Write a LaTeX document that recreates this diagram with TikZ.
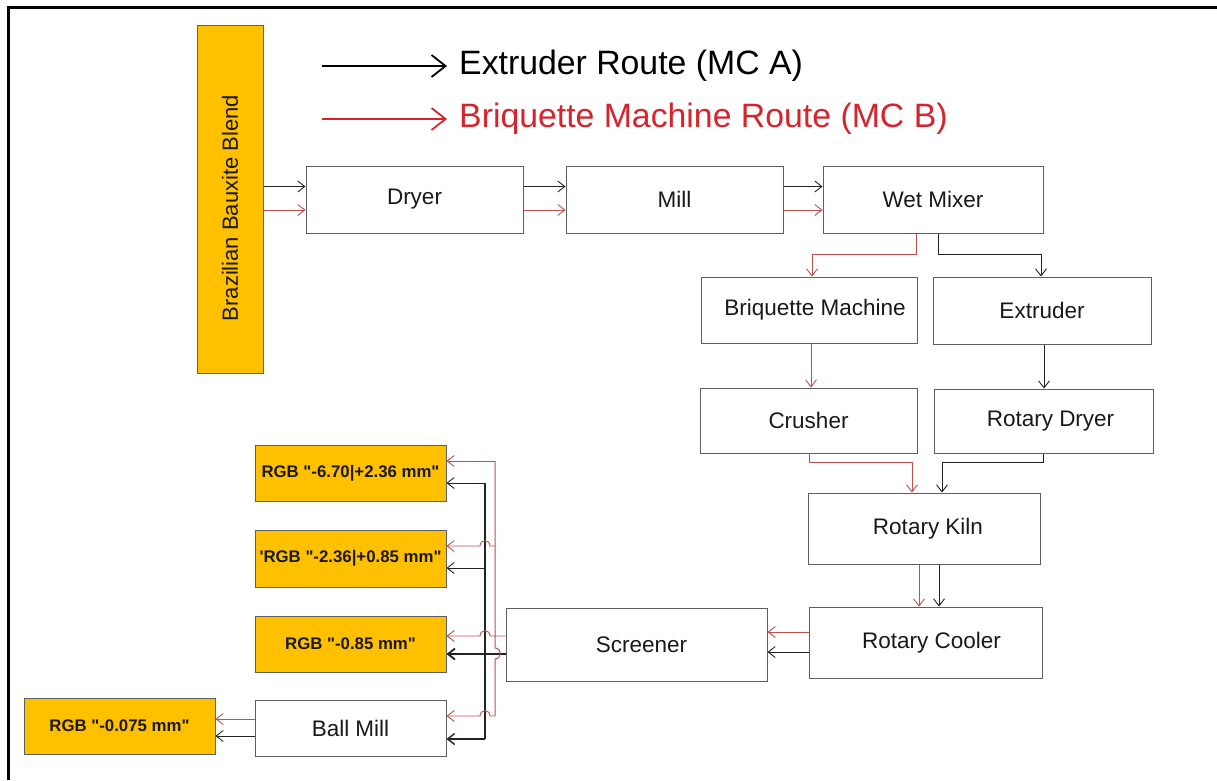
\documentclass[tikz,border=0pt]{standalone}
\usepackage{fontspec}
\setmainfont{Liberation Sans}
\newfontfamily\labfont{Liberation Sans}
\usetikzlibrary{arrows.meta}
\definecolor{orangeb}{RGB}{255,192,0}
\definecolor{redc}{RGB}{192,80,77}
\definecolor{redl}{RGB}{214,36,44}
\definecolor{blk}{RGB}{35,35,35}
\definecolor{bord}{RGB}{95,95,95}
\definecolor{txt}{RGB}{25,25,25}
\begin{document}
\begin{tikzpicture}[x=1pt,y=-1pt,
  box/.style={draw=bord, line width=1pt, fill=white, inner sep=0pt, text=txt,
    font=\fontsize{22.5}{27}\selectfont},
  labbox/.style={draw=bord, line width=1pt, fill=orangeb, inner sep=0pt, text=txt,
    font=\labfont\fontsize{16.8}{20}\selectfont\bfseries},
  arr/.style={-{Straight Barb[length=7pt,width=11pt]}, line width=0.9pt},
  blkline/.style={arr, draw=blk},
  redline/.style={arr, draw=redc},
  legarr/.style={-{Straight Barb[length=14pt,width=22pt,line width=1.8pt]}, line width=1.3pt},
  legtext/.style={anchor=west, inner sep=0pt, font=\fontsize{33.8}{40}\selectfont},
]
\useasboundingbox (0,0) rectangle (1217,780);
\fill[white] (0,0) rectangle (1217,780);
% frame
\draw[line width=3pt, black] (1217,7) -- (8,7) -- (8,780);

% legend
\coordinate (la1) at (322,66);
\coordinate (la2) at (447,66);
\coordinate (lb1) at (322,119);
\coordinate (lb2) at (447,119);
\draw[legarr, draw=black] (la1) -- (la2);
\draw[legarr, draw=redl] (lb1) -- (lb2);
\node[legtext, text=black] (legA) at (459,66) {Extruder Route (MC A)};
\node[legtext, text=redl] (legB) at (459,119) {Briquette Machine Route (MC B)};

% bauxite
\node[draw=bord, line width=1pt, fill=orangeb, minimum width=66pt, minimum height=348pt] (baux) at (230,199) {};
\node[rotate=90, inner sep=0pt, text=txt, font=\fontsize{22}{26}\selectfont] (bauxt) at (230,208) {Brazilian Bauxite Blend};

% boxes
\node[box, minimum width=217pt, minimum height=67pt] (dryer) at (414.5,199.5) {Dryer};
\node[box, minimum width=217pt, minimum height=67pt] (mill) at (674.5,199.5) {Mill};
\node[box, minimum width=220pt, minimum height=67pt] (wet) at (933,199.5) {Wet Mixer};
\node[box, minimum width=216pt, minimum height=66pt] (briq) at (809,310) {\hspace*{12pt}Briquette Machine};
\node[box, minimum width=218pt, minimum height=67pt] (extr) at (1042,310.5) {Extruder};
\node[box, minimum width=217pt, minimum height=65pt] (crus) at (808.5,420.5) {Crusher};
\node[box, minimum width=219pt, minimum height=64pt] (rdry) at (1043.5,421) {\hspace*{14pt}Rotary Dryer};
\node[box, minimum width=232pt, minimum height=71pt] (kiln) at (924,528.5) {\hspace*{8pt}Rotary Kiln};
\node[box, minimum width=233pt, minimum height=71pt] (cool) at (925.5,642.5) {\hspace*{12pt}Rotary Cooler};
\node[box, minimum width=261pt, minimum height=73pt] (scr) at (636.5,644.5) {\hspace*{10pt}Screener};
\node[labbox, minimum width=191pt, minimum height=56pt] (l1) at (350.5,473) {RGB "-6.70|+2.36 mm"};
\node[labbox, minimum width=191pt, minimum height=57pt] (l2) at (350.5,558.5) {'RGB "-2.36|+0.85 mm"};
\node[labbox, minimum width=191pt, minimum height=56pt] (l3) at (350.5,644) {RGB "-0.85 mm"};
\node[box, minimum width=191pt, minimum height=56pt] (ball) at (350.5,728) {Ball Mill};
\node[labbox, minimum width=191pt, minimum height=56pt] (l4) at (119.5,726) {RGB "-0.075 mm"};

% helper levels
\coordinate (yb) at (0,186.5);
\coordinate (yr) at (0,210);
% top row
\draw[blkline] (baux.east |- yb) -- (dryer.west |- yb);
\draw[redline] (baux.east |- yr) -- (dryer.west |- yr);
\draw[blkline] (dryer.east |- yb) -- (mill.west |- yb);
\draw[redline] (dryer.east |- yr) -- (mill.west |- yr);
\draw[blkline] (mill.east |- yb) -- (wet.west |- yb);
\draw[redline] (mill.east |- yr) -- (wet.west |- yr);

% wet mixer split
\coordinate (r1) at (916,254);
\coordinate (r2) at (812,254);
\coordinate (k1) at (938,254);
\coordinate (k2) at (1041,254);
\draw[redline] (wet.south -| r1) -- (r1) -- (r2) -- (briq.north -| r2);
\draw[blkline] (wet.south -| k1) -- (k1) -- (k2) -- (extr.north -| k2);

% second level
\coordinate (r3) at (811,365);
\coordinate (k3) at (1044,365);
\draw[redline] (briq.south -| r3) -- (crus.north -| r3);
\draw[blkline] (extr.south -| k3) -- (rdry.north -| k3);

% to kiln
\coordinate (r4a) at (809,462);
\coordinate (r4b) at (912,462);
\coordinate (k4a) at (1043,462);
\coordinate (k4b) at (942,462);
\draw[redline] (crus.south -| r4a) -- (r4a) -- (r4b) -- (kiln.north -| r4b);
\draw[blkline] (rdry.south -| k4a) -- (k4a) -- (k4b) -- (kiln.north -| k4b);

% kiln to cooler
\coordinate (r5) at (919,585);
\coordinate (k5) at (939,585);
\draw[redline] (kiln.south -| r5) -- (cool.north -| r5);
\draw[blkline] (kiln.south -| k5) -- (cool.north -| k5);

% cooler to screener
\coordinate (r6) at (0,632);
\coordinate (k6) at (0,652);
\draw[redline] (cool.west |- r6) -- (scr.east |- r6);
\draw[blkline] (cool.west |- k6) -- (scr.east |- k6);

% screener outputs: trunks
\coordinate (bt1) at (485,483);
\coordinate (bt2) at (485,568);
\coordinate (bt4) at (485,739);
\coordinate (rt1) at (495,461);
\coordinate (rt2) at (495,546);
\coordinate (rt4) at (495,716);
\coordinate (rh1) at (495,648);
\coordinate (rh2) at (495,659);
% black trunk
\draw[line width=1.8pt, draw=blk] (bt1) -- (bt4);
\draw[blkline] (bt1) -- (l1.east |- bt1);
\draw[blkline] (bt2) -- (l2.east |- bt2);
\draw[blkline, line width=1.8pt] (scr.west |- 0,654) -- (l3.east |- 0,654);
\draw[blkline, line width=1.4pt] (bt4) -- (ball.east |- bt4);
% red trunk with hop over black line
\draw[line width=1pt, draw=redc] (rt1) -- (rh1) .. controls (502,648) and (502,659) .. (rh2) -- (rt4);
\draw[redline] (rt1) -- (l1.east |- rt1);
\draw[redline] (rt2) -- (490,546) .. controls (490,539) and (480,539) .. (480,546) -- (l2.east |- rt2);
\draw[redline] (scr.west |- 0,636) -- (490,636) .. controls (490,629) and (480,629) .. (480,636) -- (l3.east |- 0,636);
\draw[redline] (rt4) -- (490,716) .. controls (490,709) and (480,709) .. (480,716) -- (ball.east |- rt4);

% ball mill to fines
\coordinate (r7) at (0,719);
\coordinate (k7) at (0,736);
\draw[redline] (ball.west |- r7) -- (l4.east |- r7);
\draw[blkline] (ball.west |- k7) -- (l4.east |- k7);
\end{tikzpicture}
\end{document}
